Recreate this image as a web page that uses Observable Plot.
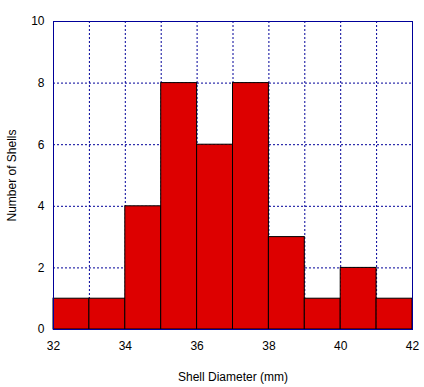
<!DOCTYPE html>
<html>
<head>
<meta charset="utf-8">
<script src="https://cdn.jsdelivr.net/npm/d3@7"></script>
<script src="https://cdn.jsdelivr.net/npm/@observablehq/plot@0.6"></script>
<style>
  body { margin: 0; background: #fff; }
  svg { font-family: "Liberation Sans", Arial, sans-serif; }
</style>
</head>
<body>
<div id="chart"></div>
<script>
const binStart = [32, 33, 34, 35, 36, 37, 38, 39, 40, 41];
const binEnd   = [33, 34, 35, 36, 37, 38, 39, 40, 41, 42];
const counts   = [1, 1, 4, 8, 6, 8, 3, 1, 2, 1];
const xTicks = [32, 34, 36, 38, 40, 42];
const yTicks = [0, 2, 4, 6, 8, 10];
const xGrid = [33, 34, 35, 36, 37, 38, 39, 40, 41];
const yGrid = [2, 4, 6, 8];

const data = binStart.map((s, i) => ({x1: s, x2: binEnd[i], y: counts[i]}));
const navy = "#000099";

const chart = Plot.plot({
  width: 424,
  height: 387,
  marginLeft: 53,
  marginRight: 12,
  marginTop: 21,
  marginBottom: 58,
  style: {fontSize: "12px", fontFamily: "Liberation Sans, Arial, sans-serif", background: "#fff", color: "#000"},
  x: {domain: [32, 42]},
  y: {domain: [0, 10]},
  marks: [
    Plot.ruleX(xGrid, {stroke: navy, strokeDasharray: "2,2", strokeWidth: 1}),
    Plot.ruleY(yGrid, {stroke: navy, strokeDasharray: "2,2", strokeWidth: 1}),
    Plot.rectY(data, {x1: "x1", x2: "x2", y: "y", fill: "#dd0000", stroke: "#000", strokeWidth: 1, inset: 0}),
    Plot.frame({stroke: navy, strokeWidth: 1}),
    Plot.axisX(xTicks, {tickSize: 0, tickPadding: 12, label: "Shell Diameter (mm)", labelAnchor: "center", labelOffset: 51, labelArrow: false, fill: "#000"}),
    Plot.axisY(yTicks, {tickSize: 0, tickPadding: 9, label: "Number of Shells", labelAnchor: "center", labelOffset: 46, labelArrow: false, fill: "#000"})
  ]
});
document.getElementById("chart").appendChild(chart);
</script>
</body>
</html>
